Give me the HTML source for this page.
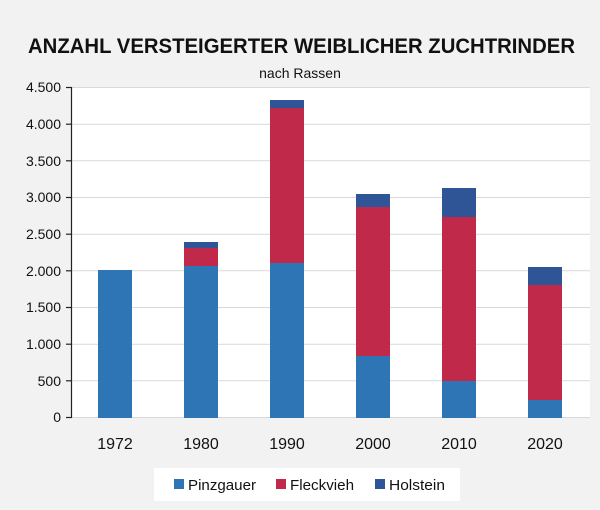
<!DOCTYPE html>
<html><head><meta charset="utf-8"><style>
body{margin:0;background:#f2f2f2;}
svg{display:block;font-family:"Liberation Sans",sans-serif;}
</style></head><body>
<svg width="600" height="510" viewBox="0 0 600 510">
<rect width="600" height="510" fill="#f2f2f2"/>
<text x="28" y="53" font-size="21" font-weight="bold" fill="#111" textLength="547" lengthAdjust="spacingAndGlyphs">ANZAHL VERSTEIGERTER WEIBLICHER ZUCHTRINDER</text>
<text x="300" y="78" text-anchor="middle" font-size="14" fill="#111">nach Rassen</text>
<rect x="72" y="87" width="518" height="331" fill="#fff"/>
<g stroke="#d9d9d9" stroke-width="1">
<line x1="72" x2="590" y1="87.5" y2="87.5"/><line x1="72" x2="590" y1="124.2" y2="124.2"/>
<line x1="72" x2="590" y1="160.8" y2="160.8"/><line x1="72" x2="590" y1="197.5" y2="197.5"/>
<line x1="72" x2="590" y1="234.2" y2="234.2"/><line x1="72" x2="590" y1="270.8" y2="270.8"/>
<line x1="72" x2="590" y1="307.5" y2="307.5"/><line x1="72" x2="590" y1="344.2" y2="344.2"/>
<line x1="72" x2="590" y1="380.8" y2="380.8"/><line x1="72" x2="590" y1="417.5" y2="417.5"/>
</g>
<g stroke="#222" stroke-width="1.2">
<line x1="71.5" x2="71.5" y1="87" y2="418"/>
<line x1="66" x2="72" y1="87.5" y2="87.5"/><line x1="66" x2="72" y1="124.2" y2="124.2"/>
<line x1="66" x2="72" y1="160.8" y2="160.8"/><line x1="66" x2="72" y1="197.5" y2="197.5"/>
<line x1="66" x2="72" y1="234.2" y2="234.2"/><line x1="66" x2="72" y1="270.8" y2="270.8"/>
<line x1="66" x2="72" y1="307.5" y2="307.5"/><line x1="66" x2="72" y1="344.2" y2="344.2"/>
<line x1="66" x2="72" y1="380.8" y2="380.8"/><line x1="66" x2="72" y1="417.5" y2="417.5"/>
</g>
<g font-size="14" text-anchor="end" fill="#111">
<text x="61" y="92">4.500</text><text x="61" y="129">4.000</text><text x="61" y="166">3.500</text>
<text x="61" y="202">3.000</text><text x="61" y="239">2.500</text><text x="61" y="276">2.000</text>
<text x="61" y="312">1.500</text><text x="61" y="349">1.000</text><text x="61" y="386">500</text>
<text x="61" y="422">0</text>
</g>
<g>
<rect x="98" y="270" width="34" height="148" fill="#2e75b6"/>
<rect x="184" y="266" width="34" height="152" fill="#2e75b6"/>
<rect x="184" y="248" width="34" height="18" fill="#c0294a"/>
<rect x="184" y="242" width="34" height="6" fill="#2f5597"/>
<rect x="270" y="263" width="34" height="155" fill="#2e75b6"/>
<rect x="270" y="108" width="34" height="155" fill="#c0294a"/>
<rect x="270" y="100" width="34" height="8" fill="#2f5597"/>
<rect x="356" y="356" width="34" height="62" fill="#2e75b6"/>
<rect x="356" y="207" width="34" height="149" fill="#c0294a"/>
<rect x="356" y="194" width="34" height="13" fill="#2f5597"/>
<rect x="442" y="381" width="34" height="37" fill="#2e75b6"/>
<rect x="442" y="217" width="34" height="164" fill="#c0294a"/>
<rect x="442" y="188" width="34" height="29" fill="#2f5597"/>
<rect x="528" y="400" width="34" height="18" fill="#2e75b6"/>
<rect x="528" y="285" width="34" height="115" fill="#c0294a"/>
<rect x="528" y="267" width="34" height="18" fill="#2f5597"/>
</g>
<g font-size="16" text-anchor="middle" fill="#111">
<text x="115" y="449">1972</text><text x="201" y="449">1980</text><text x="287" y="449">1990</text>
<text x="373" y="449">2000</text><text x="459" y="449">2010</text><text x="545" y="449">2020</text>
</g>
<rect x="154" y="468" width="306" height="33" fill="#fff"/>
<rect x="174" y="479" width="10" height="10" fill="#2e75b6"/>
<text x="188" y="490" font-size="15" fill="#111" textLength="68" lengthAdjust="spacingAndGlyphs">Pinzgauer</text>
<rect x="276" y="479" width="10" height="10" fill="#c0294a"/>
<text x="290" y="490" font-size="15" fill="#111" textLength="64" lengthAdjust="spacingAndGlyphs">Fleckvieh</text>
<rect x="375" y="479" width="10" height="10" fill="#2f5597"/>
<text x="389" y="490" font-size="15" fill="#111" textLength="56" lengthAdjust="spacingAndGlyphs">Holstein</text>
</svg>
</body></html>
